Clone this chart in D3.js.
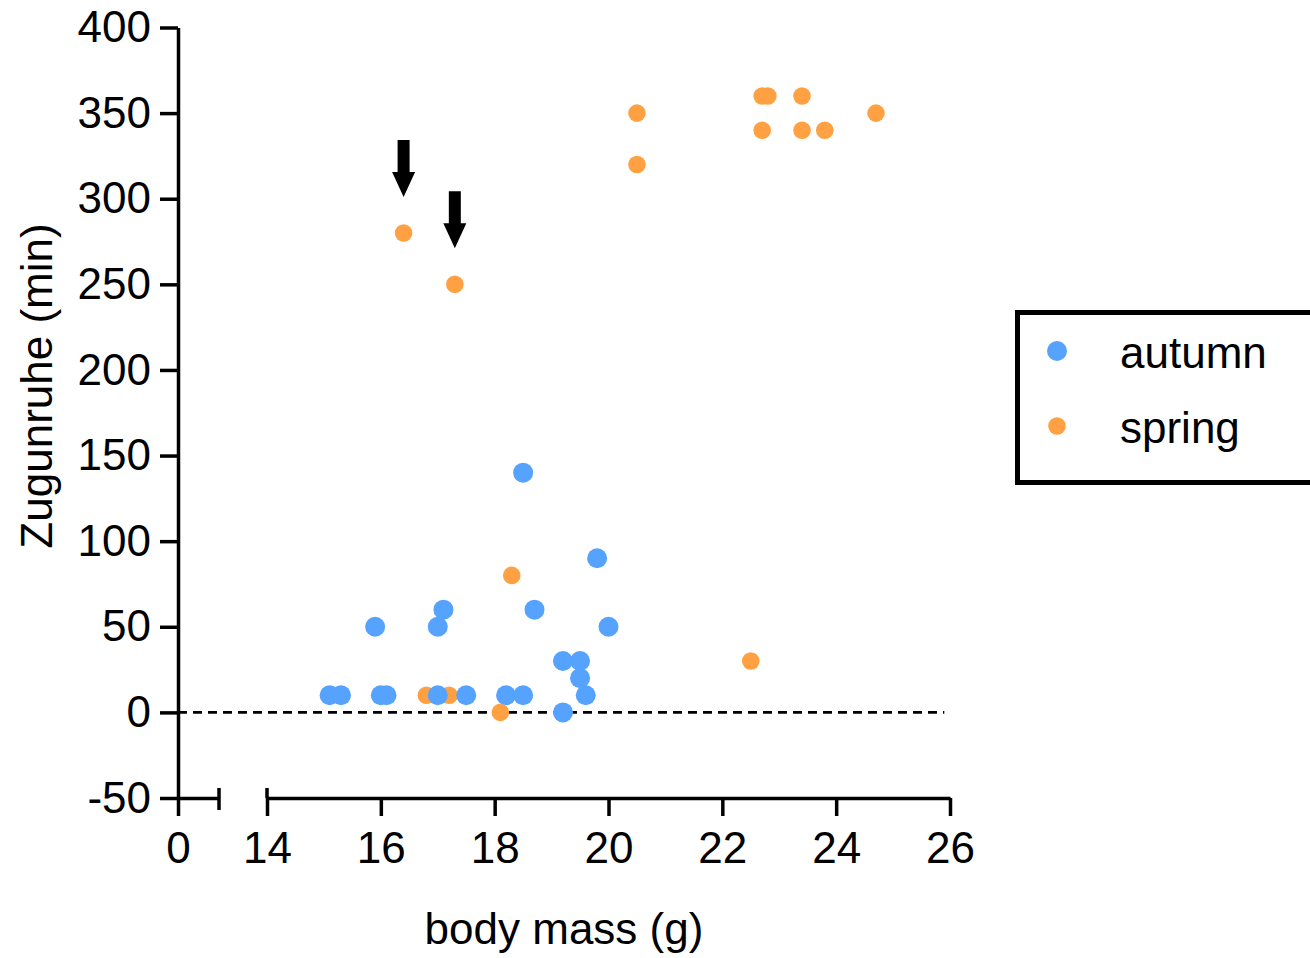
<!DOCTYPE html>
<html>
<head>
<meta charset="utf-8">
<script src="https://cdn.jsdelivr.net/npm/d3@7"></script>
<style>
  html, body { margin: 0; padding: 0; background: #fff; }
  svg { display: block; font-family: "Liberation Sans", Arial, sans-serif; }
</style>
</head>
<body>
<svg id="chart" width="1310" height="958"></svg>
<script>
// ---- data ----
const seriesNames = ["autumn", "spring"];
const autumnMass = [15.1, 15.3, 16.0, 16.1, 17.0, 17.5, 18.2, 18.5, 19.6, 19.2, 19.2, 19.5, 19.5, 15.9, 17.0, 17.1, 18.7, 20.0, 19.8, 18.5];
const autumnZug  = [10, 10, 10, 10, 10, 10, 10, 10, 10, 0, 30, 30, 20, 50, 50, 60, 60, 50, 90, 140];
const springMass = [16.8, 17.2, 18.1, 18.3, 22.5, 16.4, 17.3, 20.5, 20.5, 22.7, 22.8, 23.4, 22.7, 23.4, 23.8, 24.7];
const springZug  = [10, 10, 0, 80, 30, 280, 250, 350, 320, 360, 360, 360, 340, 340, 340, 350];
const arrowMass = [16.4, 17.3];
const arrowZug  = [280, 250];
const yTicks = [-50, 0, 50, 100, 150, 200, 250, 300, 350, 400];
const xTicksLeft = [0];
const xTicksRight = [14, 16, 18, 20, 22, 24, 26];

// ---- style ----
const colors = { autumn: "#56a3ff", spring: "#ffa142" };
const radius = { autumn: 10, spring: 8.8 };
const FS = 44;
const SW = 3.5;
const fmt = d => String(d);

const svg = d3.select("#chart");

// scales
const y = d3.scaleLinear().domain([-50, 400]).range([798, 27.5]);
const xL = d3.scaleLinear().domain([0, 0.72]).range([178, 219]);
const x = d3.scaleLinear().domain([14, 26]).range([267, 950]);

function styleAxis(g) {
  g.selectAll("path.domain").attr("stroke", "#000").attr("stroke-width", SW);
  g.selectAll(".tick line").attr("stroke", "#000").attr("stroke-width", SW);
  g.selectAll(".tick text").attr("fill", "#000").style("font-size", FS + "px")
    .style("font-family", "'Liberation Sans', Arial, sans-serif");
}

// y axis
const gy = svg.append("g").attr("transform", `translate(178,0)`)
  .call(d3.axisLeft(y).tickValues(yTicks).tickFormat(fmt).tickSize(18).tickSizeOuter(0).tickPadding(9));
styleAxis(gy);

// x axis left segment
const gxl = svg.append("g").attr("transform", `translate(0,${y(-50)})`)
  .call(d3.axisBottom(xL).tickValues(xTicksLeft).tickFormat(fmt).tickSize(18).tickSizeOuter(0).tickPadding(16));
styleAxis(gxl);

// x axis right segment
const gxr = svg.append("g").attr("transform", `translate(0,${y(-50)})`)
  .call(d3.axisBottom(x).tickValues(xTicksRight).tickFormat(fmt).tickSize(18).tickSizeOuter(0).tickPadding(16));
styleAxis(gxr);

// break caps
svg.append("line")
  .attr("x1", xL.range()[1]).attr("x2", xL.range()[1])
  .attr("y1", y(-50) - 10).attr("y2", y(-50) + 12)
  .attr("stroke", "#000").attr("stroke-width", SW);
svg.append("line")
  .attr("x1", x.range()[0]).attr("x2", x.range()[0])
  .attr("y1", y(-50) - 10).attr("y2", y(-50))
  .attr("stroke", "#000").attr("stroke-width", SW);

// dashed zero line
svg.append("line")
  .attr("x1", xL(0)).attr("x2", x(25.9))
  .attr("y1", y(0)).attr("y2", y(0))
  .attr("stroke", "#000").attr("stroke-width", 2.6)
  .attr("stroke-dasharray", "9,6");

// points: spring first, autumn on top
const springData = springMass.map((m, i) => ({ m, z: springZug[i] }));
const autumnData = autumnMass.map((m, i) => ({ m, z: autumnZug[i] }));

svg.append("g").selectAll("circle").data(springData).join("circle")
  .attr("cx", d => x(d.m)).attr("cy", d => y(d.z))
  .attr("r", radius.spring).attr("fill", colors.spring);

svg.append("g").selectAll("circle").data(autumnData).join("circle")
  .attr("cx", d => x(d.m)).attr("cy", d => y(d.z))
  .attr("r", radius.autumn).attr("fill", colors.autumn);

// arrows pointing to two spring birds
const arrowData = arrowMass.map((m, i) => ({ m, z: arrowZug[i] }));
svg.append("g").selectAll("path").data(arrowData).join("path")
  .attr("d", d => {
    const cx = x(d.m), tip = y(d.z) - 36;
    const top = tip - 57, headTop = tip - 25, sw = 6, hw = 11.5;
    return `M${cx - sw},${top} L${cx + sw},${top} L${cx + sw},${headTop} L${cx + hw},${headTop}
            L${cx},${tip} L${cx - hw},${headTop} L${cx - sw},${headTop} Z`;
  })
  .attr("fill", "#000");

// axis titles
svg.append("text")
  .attr("x", (178 + 950) / 2).attr("y", 944)
  .attr("text-anchor", "middle")
  .style("font-size", FS + "px").attr("fill", "#000")
  .text("body mass (g)");

svg.append("text")
  .attr("transform", `translate(52,386) rotate(-90)`)
  .attr("text-anchor", "middle")
  .style("font-size", FS + "px").attr("fill", "#000")
  .text("Zugunruhe (min)");

// legend
const lg = svg.append("g");
lg.append("rect")
  .attr("x", 1017.5).attr("y", 312.5).attr("width", 340).attr("height", 170)
  .attr("fill", "#fff").attr("stroke", "#000").attr("stroke-width", 5);
const legendY = [351, 426];
const legendTextY = [368, 443];
seriesNames.forEach((s, i) => {
  lg.append("circle").attr("cx", 1057).attr("cy", legendY[i])
    .attr("r", radius[s]).attr("fill", colors[s]);
  lg.append("text").attr("x", 1120).attr("y", legendTextY[i])
    .style("font-size", FS + "px").attr("fill", "#000").text(s);
});
</script>
</body>
</html>
